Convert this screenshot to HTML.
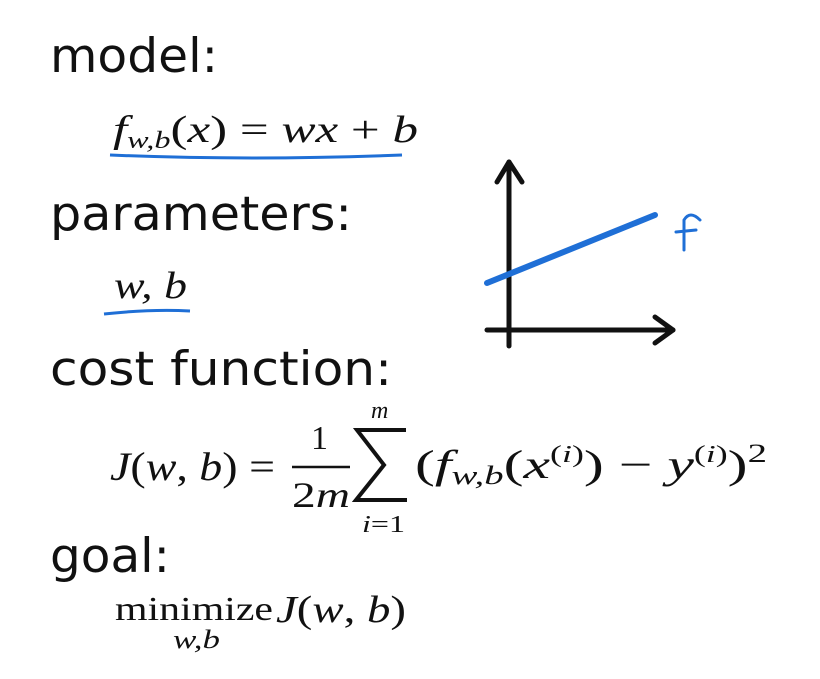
<!DOCTYPE html>
<html><head><meta charset="utf-8"><style>
html,body{margin:0;padding:0;background:#fff;}
svg{display:block}
.h{font-family:"DejaVu Sans","Liberation Sans",sans-serif;font-size:47px;fill:#111}
.m{font-family:"Liberation Serif","DejaVu Serif",serif;font-style:italic;fill:#111}
.r{font-family:"Liberation Serif","DejaVu Serif",serif;fill:#111}
</style></head><body>
<svg width="820" height="679" viewBox="0 0 820 679" xmlns="http://www.w3.org/2000/svg">
<text class="h" x="50" y="72" textLength="168" lengthAdjust="spacingAndGlyphs">model:</text>
<text class="m" x="113" y="142" font-size="38" textLength="305" lengthAdjust="spacingAndGlyphs"><tspan>f</tspan><tspan font-size="24" dy="6">w,b</tspan><tspan dy="-6" font-style="normal">(</tspan><tspan>x</tspan><tspan font-style="normal">) = </tspan><tspan>wx</tspan><tspan font-style="normal"> + </tspan><tspan>b</tspan></text>
<path d="M110 155 Q250 161 402 155" stroke="#1f6fd6" stroke-width="3" fill="none"/>
<text class="h" x="50" y="230" textLength="302" lengthAdjust="spacingAndGlyphs">parameters:</text>
<text class="m" x="114" y="298" font-size="38" textLength="73" lengthAdjust="spacingAndGlyphs">w, b</text>
<path d="M104 314 Q150 309 190 311" stroke="#1f6fd6" stroke-width="3" fill="none"/>
<text class="h" x="50" y="385" textLength="342" lengthAdjust="spacingAndGlyphs">cost function:</text>
<text class="m" x="110" y="480" font-size="40" textLength="165" lengthAdjust="spacingAndGlyphs"><tspan>J</tspan><tspan font-style="normal">(</tspan><tspan>w</tspan><tspan font-style="normal">, </tspan><tspan>b</tspan><tspan font-style="normal">) =</tspan></text>
<text class="r" x="311" y="449" font-size="34">1</text>
<line x1="292" y1="467" x2="350" y2="467" stroke="#111" stroke-width="2.5"/>
<text class="r" x="292" y="507" font-size="36" textLength="58" lengthAdjust="spacingAndGlyphs">2<tspan font-style="italic">m</tspan></text>
<path d="M406 430 L357 430 L384 465 L356 500 L407 500" stroke="#111" stroke-width="4" fill="none"/>
<text class="m" x="371" y="418" font-size="24">m</text>
<text class="m" x="362" y="532" font-size="24" textLength="43" lengthAdjust="spacingAndGlyphs">i<tspan font-style="normal">=1</tspan></text>
<text class="m" x="415" y="478" font-size="40" textLength="352" lengthAdjust="spacingAndGlyphs"><tspan font-style="normal">(</tspan><tspan>f</tspan><tspan font-size="26" dy="6">w,b</tspan><tspan dy="-6" font-style="normal">(</tspan><tspan>x</tspan><tspan font-size="24" dy="-16" font-style="normal">(</tspan><tspan font-size="24">i</tspan><tspan font-size="24" font-style="normal">)</tspan><tspan dy="16" font-style="normal">)   −   </tspan><tspan>y</tspan><tspan font-size="24" dy="-16" font-style="normal">(</tspan><tspan font-size="24">i</tspan><tspan font-size="24" font-style="normal">)</tspan><tspan dy="16" font-style="normal">)</tspan><tspan font-size="26" dy="-16" font-style="normal">2</tspan></text>
<text class="h" x="50" y="572" textLength="120" lengthAdjust="spacingAndGlyphs">goal:</text>
<text class="r" x="115" y="620" font-size="34" textLength="158" lengthAdjust="spacingAndGlyphs">minimize</text>
<text class="m" x="276" y="622" font-size="38" textLength="130" lengthAdjust="spacingAndGlyphs"><tspan>J</tspan><tspan font-style="normal">(</tspan><tspan>w</tspan><tspan font-style="normal">, </tspan><tspan>b</tspan><tspan font-style="normal">)</tspan></text>
<text class="m" x="173" y="648" font-size="26" textLength="47" lengthAdjust="spacingAndGlyphs">w,b</text>
<g stroke="#111" stroke-width="5" fill="none" stroke-linecap="round" stroke-linejoin="round">
<line x1="509" y1="162" x2="509" y2="346"/>
<polyline points="497,182 509,162 522,182"/>
<line x1="487" y1="330" x2="673" y2="330"/>
<polyline points="655,317 673,330 655,343"/>
</g>
<line x1="487" y1="283" x2="655" y2="215" stroke="#1f6fd6" stroke-width="6" stroke-linecap="round"/>
<path d="M700 220 Q690 210 684 220 L684 250 M676 232 L696 230" stroke="#1f6fd6" stroke-width="3" fill="none" stroke-linecap="round"/>
</svg>
</body></html>
